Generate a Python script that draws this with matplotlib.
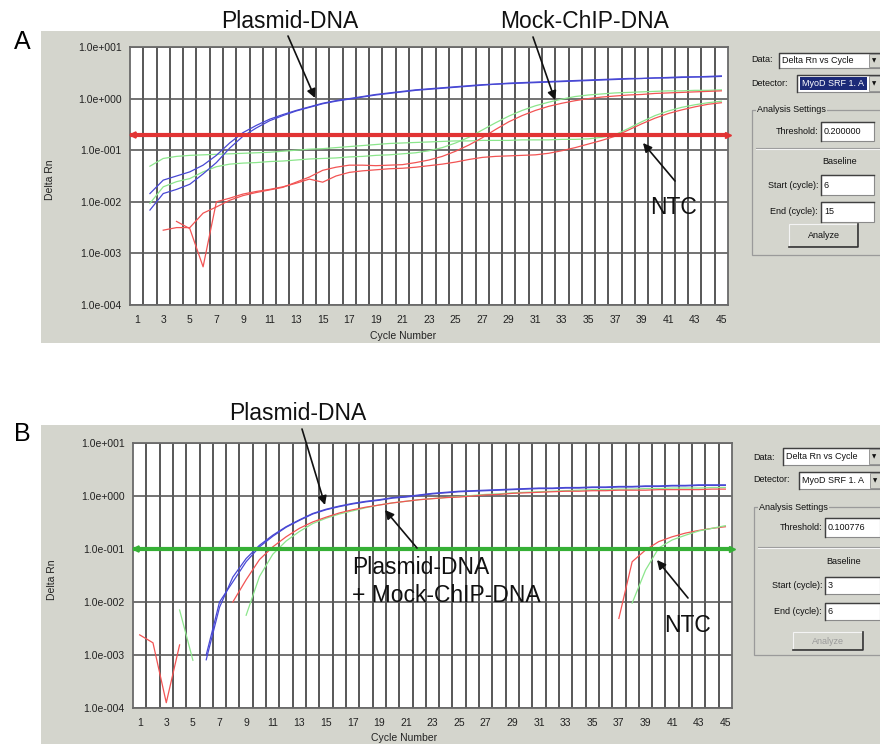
import numpy as np
import matplotlib.pyplot as plt
from matplotlib.patches import Rectangle
from matplotlib.ticker import NullLocator

plt.rcParams['font.family'] = ['Liberation Sans', 'DejaVu Sans']

W, H = 880, 744

xticks = np.arange(1, 46, 2)
ytick_vals = [1e-4, 1e-3, 1e-2, 1e-1, 1e0, 1e1]
ytick_labels = ['1.0e-004', '1.0e-003', '1.0e-002', '1.0e-001', '1.0e+000', '1.0e+001']

# ---- panel A: log10(Delta Rn), one value per cycle from the start cycle ----
a_thr = 0.200000
a_blue1_start = 2
a_blue1 = [-1.84, -1.58, -1.50, -1.42, -1.29, -1.10, -0.86, -0.66, -0.52, -0.40,
           -0.31, -0.23, -0.16, -0.09, -0.04, 0.00, 0.04, 0.08, 0.11, 0.14,
           0.17, 0.19, 0.21, 0.23, 0.25, 0.27, 0.28, 0.30, 0.31, 0.32,
           0.33, 0.34, 0.35, 0.36, 0.37, 0.38, 0.39, 0.39, 0.40, 0.41,
           0.42, 0.42, 0.43, 0.44]
a_blue2_start = 2
a_blue2 = [-2.16, -1.84, -1.76, -1.66, -1.46, -1.24, -0.96, -0.73, -0.57, -0.43,
           -0.33, -0.24, -0.17, -0.10, -0.05, -0.01, 0.03, 0.07, 0.10, 0.13,
           0.16, 0.18, 0.20, 0.22, 0.24, 0.26, 0.28, 0.29, 0.30, 0.31,
           0.32, 0.33, 0.34, 0.35, 0.36, 0.37, 0.38, 0.39, 0.40, 0.40,
           0.41, 0.42, 0.42, 0.43]
a_green1_start = 2
a_green1 = [-2.03, -1.71, -1.61, -1.55, -1.42, -1.32, -1.27, -1.25, -1.24, -1.22,
            -1.21, -1.19, -1.17, -1.16, -1.15, -1.13, -1.12, -1.10, -1.09, -1.07,
            -1.05, -1.01, -0.95, -0.86, -0.75, -0.61, -0.47, -0.34, -0.23, -0.14,
            -0.07, -0.01, 0.04, 0.07, 0.09, 0.11, 0.12, 0.13, 0.14, 0.15,
            0.15, 0.16, 0.16, 0.17]
a_green2_start = 2
a_green2 = [-1.31, -1.16, -1.12, -1.10, -1.09, -1.08, -1.07, -1.06, -1.05, -1.04,
            -1.02, -1.00, -0.98, -0.97, -0.95, -0.93, -0.91, -0.89, -0.87, -0.86,
            -0.85, -0.84, -0.83, -0.82, -0.82, -0.81, -0.81, -0.81, -0.80, -0.80,
            -0.80, -0.79, -0.79, -0.78, -0.75, -0.70, -0.58, -0.45, -0.33, -0.24,
            -0.17, -0.12, -0.08, -0.05]
a_red1_start = 3
a_red1 = [-2.55, -2.50, -2.50, -2.22, -2.10, -1.97, -1.88, -1.82, -1.77, -1.72,
          -1.62, -1.52, -1.39, -1.33, -1.29, -1.29, -1.30, -1.29, -1.28, -1.24,
          -1.19, -1.12, -1.02, -0.90, -0.76, -0.60, -0.45, -0.33, -0.23, -0.15,
          -0.09, -0.04, 0.00, 0.03, 0.05, 0.07, 0.08, 0.10, 0.11, 0.12,
          0.13, 0.14, 0.15]
a_red2_start = 4
a_red2 = [-2.38, -2.52, -3.26, -2.00, -1.93, -1.85, -1.80, -1.76, -1.71, -1.64,
          -1.56, -1.62, -1.50, -1.43, -1.40, -1.38, -1.36, -1.35, -1.33, -1.30,
          -1.27, -1.23, -1.18, -1.14, -1.12, -1.11, -1.10, -1.09, -1.06, -1.01,
          -0.95, -0.88, -0.81, -0.73, -0.61, -0.49, -0.38, -0.29, -0.22, -0.16,
          -0.11, -0.08]

# ---- panel B ----
b_thr = 0.100776
b_blue1_start = 6
b_blue1 = [-3.09, -2.10, -1.53, -1.18, -0.93, -0.74, -0.58, -0.45, -0.33, -0.25,
           -0.19, -0.14, -0.10, -0.07, -0.03, -0.01, 0.02, 0.05, 0.07, 0.09,
           0.10, 0.11, 0.12, 0.13, 0.14, 0.15, 0.15, 0.16, 0.16, 0.17,
           0.17, 0.18, 0.18, 0.19, 0.19, 0.20, 0.20, 0.21, 0.21, 0.21]
b_blue2_start = 6
b_blue2 = [-3.00, -2.00, -1.62, -1.24, -0.96, -0.76, -0.59, -0.46, -0.34, -0.26,
           -0.20, -0.15, -0.11, -0.08, -0.04, -0.02, 0.01, 0.04, 0.06, 0.08,
           0.09, 0.10, 0.11, 0.12, 0.13, 0.14, 0.14, 0.15, 0.15, 0.16,
           0.16, 0.17, 0.17, 0.18, 0.18, 0.19, 0.19, 0.20, 0.20, 0.20]
b_red1_start = 8
b_red1 = [-2.00, -1.58, -1.20, -0.96, -0.77, -0.61, -0.49, -0.40, -0.32, -0.26,
          -0.21, -0.17, -0.13, -0.10, -0.07, -0.05, -0.03, -0.02, 0.00, 0.02,
          0.03, 0.05, 0.06, 0.07, 0.08, 0.09, 0.09, 0.10, 0.10, 0.11,
          0.11, 0.11, 0.12, 0.12, 0.12, 0.12, 0.13, 0.13]
b_green1_start = 9
b_green1 = [-2.25, -1.52, -1.10, -0.85, -0.67, -0.52, -0.42, -0.34, -0.28, -0.22,
            -0.17, -0.13, -0.10, -0.07, -0.05, -0.03, -0.01, 0.01, 0.03, 0.04,
            0.06, 0.07, 0.08, 0.09, 0.10, 0.11, 0.12, 0.12, 0.13, 0.13,
            0.14, 0.14, 0.15, 0.15, 0.15, 0.16, 0.16]
b_red_noise_start = 1
b_red_noise = [-2.62, -2.77, -3.90, -2.81]
b_green_noise_start = 4
b_green_noise = [-2.15, -3.10]
b_red_ntc_start = 37
b_red_ntc = [-2.31, -1.24, -1.02, -0.86, -0.77, -0.70, -0.65, -0.61, -0.58]
b_green_ntc_start = 38
b_green_ntc = [-2.02, -1.40, -0.98, -0.83, -0.74, -0.66, -0.61, -0.56]

BLUE = '#4848d4'
GREEN = '#8ce68c'
RED = '#f25454'
PANEL = '#d4d5cd'
GRID = '#4a4a4a'


def rect(l, t, r, b):
    return [l / W, 1 - b / H, (r - l) / W, (b - t) / H]


fig = plt.figure(figsize=(8.8, 7.44), dpi=100)
fig.patch.set_facecolor('white')

bg = fig.add_axes([0, 0, 1, 1], zorder=-1)
bg.set_xlim(0, W)
bg.set_ylim(H, 0)
bg.axis('off')
bg.add_patch(Rectangle((41, 31), W - 41, 312, facecolor=PANEL, edgecolor='none'))
bg.add_patch(Rectangle((41, 425), W - 41, H - 425, facecolor=PANEL, edgecolor='none'))


def draw_curve(ax, start, logs, color):
    x = np.arange(start, start + len(logs))
    ax.plot(x, 10.0 ** np.array(logs), color=color, lw=0.9, zorder=3)


def setup(ax, thr, thr_color):
    ax.set_yscale('log')
    ax.set_xlim(0.5, 45.5)
    ax.set_ylim(1e-4, 1e1)
    ax.set_yticks(ytick_vals)
    ax.set_yticklabels(ytick_labels)
    ax.yaxis.set_minor_locator(NullLocator())
    ax.set_xticks(xticks)
    ax.set_xticks(np.arange(1.5, 45.5, 1), minor=True)
    ax.tick_params(axis='both', which='both', length=0, labelsize=7.5,
                   labelcolor='#222222')
    ax.tick_params(axis='x', pad=7)
    ax.tick_params(axis='y', pad=6)
    ax.grid(which='minor', axis='x', color=GRID, lw=1.3)
    ax.grid(which='major', axis='y', color='#5a5a5a', lw=1.2)
    ax.grid(which='major', axis='x', visible=False)
    ax.set_axisbelow(True)
    for s in ax.spines.values():
        s.set_color('#6a6a6a')
        s.set_linewidth(1.3)
    x0, x1 = ax.get_xlim()
    ax.axhline(thr, color=thr_color, lw=3, zorder=4)
    ax.plot([x0 + 0.25], [thr], marker='<', ms=5, color=thr_color, mfc='none',
            mew=1.2, clip_on=False, zorder=5)
    ax.plot([x1], [thr], marker='>', ms=5, color=thr_color, clip_on=False, zorder=5)


axA = fig.add_axes(rect(130, 47, 728, 305), zorder=1)
axA.set_facecolor('white')
draw_curve(axA, a_green1_start, a_green1, GREEN)
draw_curve(axA, a_green2_start, a_green2, GREEN)
draw_curve(axA, a_red1_start, a_red1, RED)
draw_curve(axA, a_red2_start, a_red2, RED)
draw_curve(axA, a_blue1_start, a_blue1, BLUE)
draw_curve(axA, a_blue2_start, a_blue2, BLUE)
setup(axA, a_thr, '#e23434')

axB = fig.add_axes(rect(133, 443, 732, 708), zorder=1)
axB.set_facecolor('white')
draw_curve(axB, b_green1_start, b_green1, GREEN)
draw_curve(axB, b_red1_start, b_red1, RED)
draw_curve(axB, b_blue2_start, b_blue2, BLUE)
draw_curve(axB, b_blue1_start, b_blue1, BLUE)
draw_curve(axB, b_red_noise_start, b_red_noise, RED)
draw_curve(axB, b_green_noise_start, b_green_noise, GREEN)
draw_curve(axB, b_red_ntc_start, b_red_ntc, RED)
draw_curve(axB, b_green_ntc_start, b_green_ntc, GREEN)
setup(axB, b_thr, '#36b036')

# ---- overlay: labels, annotations, side controls (pixel coordinates) ----
ui = fig.add_axes([0, 0, 1, 1], zorder=3)
ui.set_xlim(0, W)
ui.set_ylim(H, 0)
ui.axis('off')
ui.patch.set_alpha(0)

ui.text(22, 42, 'A', fontsize=18, ha='center', va='center')
ui.text(22, 434, 'B', fontsize=18, ha='center', va='center')

for cx, cy in [(50, 180), (52, 580)]:
    ui.text(cx, cy, 'Delta Rn', fontsize=7.5, rotation=90, ha='center', va='center',
            color='#222222')
for cx, cy in [(403, 336), (404, 738)]:
    ui.text(cx, cy, 'Cycle Number', fontsize=7.5, ha='center', va='center',
            color='#222222')

arrow = dict(arrowstyle='-|>', color='#111111', lw=1.2, mutation_scale=13,
             shrinkA=0, shrinkB=0)
big = dict(fontsize=16.5, color='#111111')

ui.text(290, 22, 'Plasmid-DNA', ha='center', va='center', **big)
ui.annotate('', xy=(315, 98), xytext=(288, 36), arrowprops=arrow)
ui.text(585, 21, 'Mock-ChIP-DNA', ha='center', va='center', **big)
ui.annotate('', xy=(555, 100), xytext=(533, 37), arrowprops=arrow)
ui.text(673, 208, 'NTC', ha='center', va='center', **big)
ui.annotate('', xy=(643, 143), xytext=(675, 181), arrowprops=arrow)

ui.text(298, 414, 'Plasmid-DNA', ha='center', va='center', **big)
ui.annotate('', xy=(325, 505), xytext=(302, 429), arrowprops=arrow)
ui.text(352, 568, 'Plasmid-DNA', ha='left', va='center', **big)
ui.text(352, 595, '+ Mock-ChIP-DNA', ha='left', va='center', **big)
ui.annotate('', xy=(385, 510), xytext=(417, 548), arrowprops=arrow)
ui.text(687, 625, 'NTC', ha='center', va='center', **big)
ui.annotate('', xy=(657, 560), xytext=(688, 598), arrowprops=arrow)

small = dict(fontsize=6.5, color='#111111', va='center')


def field(x0, y0, x1, y1, text, face='white'):
    ui.add_patch(Rectangle((x0, y0), x1 - x0, y1 - y0, facecolor=face,
                           edgecolor='#8a8a8a', lw=0.8))
    ui.plot([x0, x0, x1], [y1, y0, y0], color='#404040', lw=1.0)
    if text:
        ui.text(x0 + 3, (y0 + y1) / 2, text, ha='left', **small)


def drop(x0, y0, y1):
    ui.add_patch(Rectangle((x0, y0), 12, y1 - y0, facecolor=PANEL,
                           edgecolor='#8a8a8a', lw=0.6, zorder=5))
    ui.text(x0 + 5, (y0 + y1) / 2, '\u25bc', ha='center', va='center',
            fontsize=4, family='DejaVu Sans', color='#111111', zorder=6)


def group(x0, y0, y1, title):
    ui.add_patch(Rectangle((x0, y0), W + 10 - x0, y1 - y0, facecolor='none',
                           edgecolor='#9a9a9a', lw=0.9))
    ui.text(x0 + 5, y0, title, ha='left', bbox=dict(facecolor=PANEL,
            edgecolor='none', pad=0.5), **small)


def button(x0, y0, x1, y1, text, color):
    ui.add_patch(Rectangle((x0, y0), x1 - x0, y1 - y0, facecolor=PANEL,
                           edgecolor='#f4f4f4', lw=0.8))
    ui.plot([x0, x1, x1], [y1, y1, y0], color='#303030', lw=1.2)
    ui.text((x0 + x1) / 2, (y0 + y1) / 2, text, ha='center', fontsize=6.5,
            color=color, va='center')


# side panel A
ui.text(751, 60, 'Data:', ha='left', **small)
field(779, 53, 880, 68, 'Delta Rn vs Cycle')
drop(869, 54, 67)
ui.text(751, 83, 'Detector:', ha='left', **small)
field(797, 75, 880, 92, None)
ui.add_patch(Rectangle((800, 77), 67, 13, facecolor='#1c2a78', edgecolor='none'))
ui.text(802, 83.5, 'MyoD SRF 1. A', ha='left', fontsize=6.5, color='white',
        va='center')
drop(869, 76, 91)
group(752, 110, 255, 'Analysis Settings')
ui.text(818, 131, 'Threshold:', ha='right', **small)
field(821, 122, 874, 141, '0.200000')
ui.plot([756, 880], [148, 148], color='#9a9a9a', lw=0.8)
ui.plot([756, 880], [149.2, 149.2], color='#f4f4f4', lw=0.8)
ui.text(840, 162, 'Baseline', ha='center', **small)
ui.text(818, 185, 'Start (cycle):', ha='right', **small)
field(821, 175, 874, 195, '6')
ui.text(818, 212, 'End (cycle):', ha='right', **small)
field(821, 202, 874, 222, '15')
button(789, 224, 858, 247, 'Analyze', '#111111')

# side panel B
ui.text(753, 457, 'Data:', ha='left', **small)
field(783, 448, 880, 465, 'Delta Rn vs Cycle')
drop(869, 449, 464)
ui.text(753, 480, 'Detector:', ha='left', **small)
field(799, 472, 880, 489, 'MyoD SRF 1. A')
drop(870, 473, 488)
group(754, 507, 655, 'Analysis Settings')
ui.text(822, 528, 'Threshold:', ha='right', **small)
field(825, 518, 880, 537, '0.100776')
ui.plot([758, 880], [547, 547], color='#9a9a9a', lw=0.8)
ui.plot([758, 880], [548.2, 548.2], color='#f4f4f4', lw=0.8)
ui.text(844, 562, 'Baseline', ha='center', **small)
ui.text(822, 585, 'Start (cycle):', ha='right', **small)
field(825, 577, 880, 594, '3')
ui.text(822, 611, 'End (cycle):', ha='right', **small)
field(825, 603, 880, 620, '6')
button(793, 632, 863, 650, 'Analyze', '#9a9a9a')

fig.savefig('out.png', dpi=100)
